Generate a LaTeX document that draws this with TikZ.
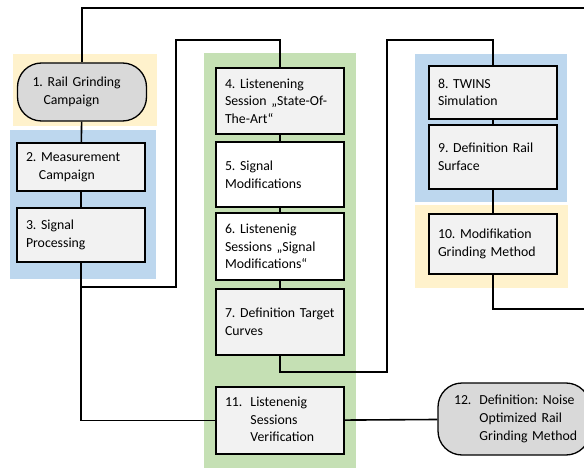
\documentclass[tikz,border=0pt]{standalone}
\usepackage{fontspec}
\setmainfont{Carlito}
\usepackage{tikz}

\definecolor{paleyellow}{HTML}{FFF2CC}
\definecolor{paleblue}{HTML}{BDD7EE}
\definecolor{palegreen}{HTML}{C5E0B4}
\definecolor{boxfill}{HTML}{F2F2F2}
\definecolor{endfill}{HTML}{D9D9D9}

\frenchspacing
\hyphenpenalty=10000

\begin{document}
\begin{tikzpicture}[x=1pt, y=-1pt,
    stepbox/.style={draw, line width=1.3pt, fill=boxfill, align=left,
        inner xsep=9pt, text width=110pt, minimum height=#1,
        font=\fontsize{13.8}{17.6}\selectfont},
    stepbox/.default=60pt,
    endbox/.style={draw, line width=1.3pt, fill=endfill, align=left,
        rounded corners=24pt, inner xsep=15pt, minimum height=#1,
        font=\fontsize{13.8}{17.6}\selectfont},
    link/.style={line width=1.6pt}]
\useasboundingbox (0,0) rectangle (584,468);

% work package areas
\fill[paleyellow] (13,54) rectangle (157,126);
\fill[paleblue] (10,130) rectangle (156,279);
\fill[palegreen] (204,53) rectangle (356,468);
\fill[paleblue] (415,54) rectangle (567,202);
\fill[paleyellow] (415,205) rectangle (568,288);

% left column
\node[endbox=58pt, text width=99pt] (r1) at (82,92)
    {1. Rail Grinding\\\hspace*{11pt}Campaign};
\node[stepbox=48pt] (r2) at (81,167) {2. Measurement\\\hspace*{13pt}Campaign};
\node[stepbox=54pt] (r3) at (81,235) {3. Signal\\Processing};

% middle column
\node[stepbox=66pt] (r4) at (280,101) {4. Listenening\\Session „State-Of-\\The-Art“};
\node[stepbox=65pt, fill=white] (r5) at (280,174.5) {5. Signal\\Modifications};
\node[stepbox=67pt, fill=white] (r6) at (280,246.5) {6. Listenenig\\Sessions „Signal\\Modifications“};
\node[stepbox=66pt] (r7) at (280,322) {7. Definition Target\\Curves};
\node[stepbox=67pt] (r11) at (280,420.5)
    {\begin{tabular}{@{}l@{\hspace{8pt}}l@{}}11. & Listenenig\\ & Sessions\\ & Verification\end{tabular}};

% right column
\node[stepbox=53pt] (r8) at (493,92.5) {8. TWINS\\Simulation};
\node[stepbox=64pt] (r9) at (493,157) {9. Definition Rail\\Surface};
\node[stepbox=60pt] (r10) at (493,244) {10. Modifikation\\Grinding Method};
\node[endbox=72pt, text width=120pt, inner xsep=16pt] (r12) at (514,419)
    {\begin{tabular}{@{}l@{\hspace{8pt}}l@{}}12. & Definition: Noise\\ & Optimized Rail\\ & Grinding Method\end{tabular}};

\coordinate (topend) at (590,8);
\coordinate (rightend) at (590,309);

% connectors
\draw[link] (r1.north) |- (topend);
\draw[link] (r1) -- (r2);
\draw[link] (r2) -- (r3);
\draw[link] (r3.south) |- (r11.west);
\draw[link] (r3.south |- 0,287) -| (176,40) -| (r4.north);
\draw[link] (r4) -- (r5);
\draw[link] (r5) -- (r6);
\draw[link] (r6) -- (r7);
\draw[link] (r7.south) |- (387,372) -- (387,40) -| (r8.north);
\draw[link] (r8) -- (r9);
\draw[link] (r9) -- (r10);
\draw[link] (r10.south) |- (rightend);
\draw[link] (r11) -- (r12);
\end{tikzpicture}
\end{document}
